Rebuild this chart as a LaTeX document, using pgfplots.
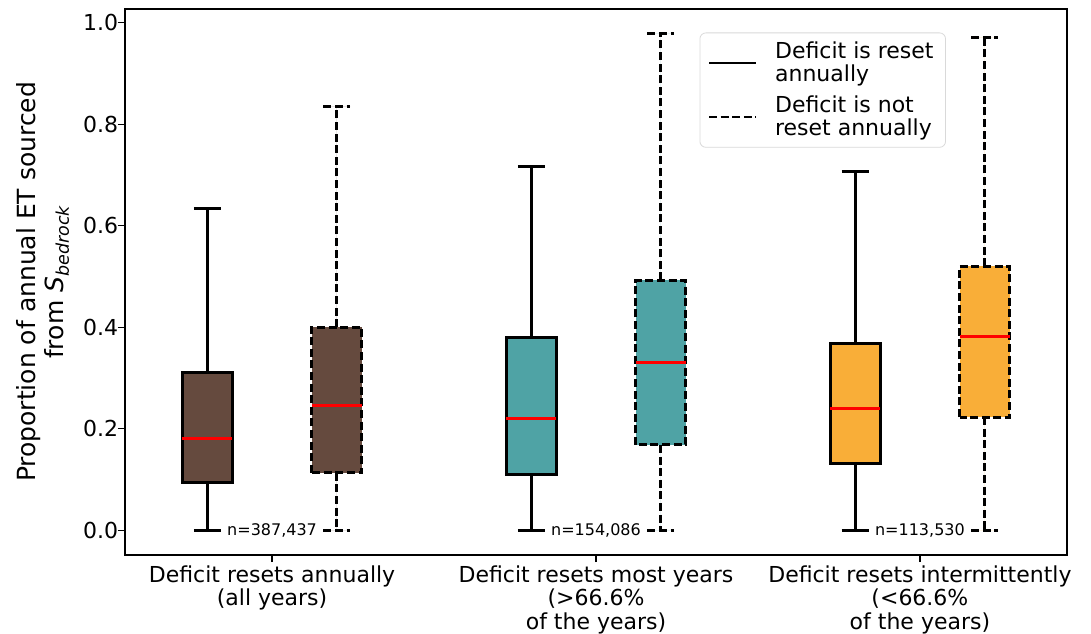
\documentclass[border=0pt]{standalone}
\usepackage{fontspec}
\setmainfont{DejaVu Sans}
\usepackage{pgfplots}
\pgfplotsset{compat=1.18}
\usepgfplotslibrary{statistics}

\definecolor{cbrown}{RGB}{101,74,62}
\definecolor{cteal}{RGB}{79,163,165}
\definecolor{corange}{RGB}{249,174,56}

\pgfplotsset{
  solidbox/.style={draw=black, fill=#1, line width=1.5pt, solid,
    boxplot/draw direction=y,
    boxplot/every whisker/.style={line width=1.45pt},
    boxplot/every median/.style={draw=red, solid, line width=1.6pt}},
  dashbox/.style={draw=black, fill=#1, line width=1.5pt, dash pattern=on 4pt off 1.8pt,
    boxplot/draw direction=y,
    boxplot/every whisker/.style={line width=1.45pt},
    boxplot/every median/.style={draw=red, solid, line width=1.6pt}},
}

\begin{document}
\begin{tikzpicture}
\useasboundingbox (-62.5pt,-39pt) rectangle (483pt,277.5pt);
\begin{axis}[
  width=471pt, height=273pt, scale only axis,
  xmin=0.546, xmax=3.454, ymin=-0.0489, ymax=1.0269,
  axis line style={black, line width=0.6pt},
  tick align=outside, tick pos=left,
  major tick length=3.5pt,
  tick style={black, line width=0.6pt},
  xtick={1,2,3},
  xticklabels={{Deficit resets annually\\(all years)},{Deficit resets most years\\(>66.6\%\\of the years)},{Deficit resets intermittently\\(<66.6\%\\of the years)}},
  xticklabel style={align=center, font=\fontsize{11}{11.8}\selectfont, inner ysep=1.5pt},
  ytick={0,0.2,0.4,0.6,0.8,1.0},
  yticklabel style={font=\fontsize{11}{12.5}\selectfont, inner xsep=1.5pt, xshift=1.8pt, /pgf/number format/fixed, /pgf/number format/fixed zerofill, /pgf/number format/precision=1},
  /pgf/number format/assume math mode=true,
  ylabel={Proportion of annual ET sourced\\from {\itshape S}\textsubscript{\itshape bedrock}},
  every axis y label/.style={at={(axis description cs:-0.087,0.5)}, rotate=90, anchor=center, align=center, font=\fontsize{12.5}{14}\selectfont},
  legend style={at={(0.8715,0.957)}, anchor=north east, draw=black!15, rounded corners=3pt,
    font=\fontsize{11}{11.5}\selectfont, cells={align=left}, inner xsep=4pt, inner ysep=2.5pt,
    /tikz/every odd column/.append style={column sep=7pt}, /tikz/row sep=1.5pt},
  legend cell align=left,
]
\addlegendimage{legend image code/.code={\draw[black,line width=1.1pt] (0pt,0pt)--(23.5pt,0pt);}}
\addlegendentry{Deficit is reset\\annually}
\addlegendimage{legend image code/.code={\draw[black,line width=1.1pt,dash pattern=on 4pt off 1.8pt] (0pt,0pt)--(23.5pt,0pt);}}
\addlegendentry{Deficit is not\\reset annually}

% group 1
\addplot[forget plot, solidbox=cbrown, boxplot prepared={draw position=0.8, lower whisker=0, lower quartile=0.093, median=0.18, upper quartile=0.31, upper whisker=0.634, box extend=0.154, whisker extend=0.083}] coordinates {};
\addplot[forget plot, dashbox=cbrown, boxplot prepared={draw position=1.2, lower whisker=0, lower quartile=0.113, median=0.245, upper quartile=0.40, upper whisker=0.834, box extend=0.154, whisker extend=0.083}] coordinates {};
% group 2
\addplot[forget plot, solidbox=cteal, boxplot prepared={draw position=1.8, lower whisker=0, lower quartile=0.11, median=0.22, upper quartile=0.38, upper whisker=0.717, box extend=0.154, whisker extend=0.083}] coordinates {};
\addplot[forget plot, dashbox=cteal, boxplot prepared={draw position=2.2, lower whisker=0, lower quartile=0.168, median=0.33, upper quartile=0.492, upper whisker=0.978, box extend=0.154, whisker extend=0.083}] coordinates {};
% group 3
\addplot[forget plot, solidbox=corange, boxplot prepared={draw position=2.8, lower whisker=0, lower quartile=0.132, median=0.24, upper quartile=0.367, upper whisker=0.706, box extend=0.154, whisker extend=0.083}] coordinates {};
\addplot[forget plot, dashbox=corange, boxplot prepared={draw position=3.2, lower whisker=0, lower quartile=0.223, median=0.382, upper quartile=0.52, upper whisker=0.97, box extend=0.154, whisker extend=0.083}] coordinates {};

\node[font=\fontsize{8}{9}\selectfont, inner sep=1pt] at (axis cs:1,0) {n=387,437};
\node[font=\fontsize{8}{9}\selectfont, inner sep=1pt] at (axis cs:2,0) {n=154,086};
\node[font=\fontsize{8}{9}\selectfont, inner sep=1pt] at (axis cs:3,0) {n=113,530};
\end{axis}
\end{tikzpicture}
\end{document}
